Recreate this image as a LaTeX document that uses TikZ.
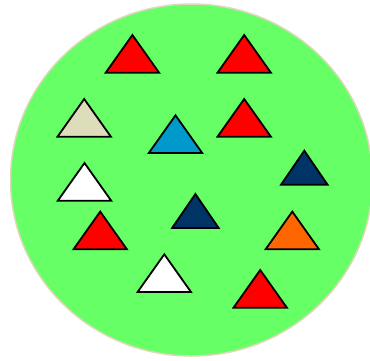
\documentclass[tikz,border=0pt]{standalone}
\usepackage{tikz}
\usetikzlibrary{calc}

\definecolor{fieldgreen}{HTML}{66FF66}
\definecolor{fieldrim}{HTML}{DDD8B8}
\definecolor{tred}{HTML}{FF0000}
\definecolor{tbeige}{HTML}{DDDDBB}
\definecolor{tblue}{HTML}{0099CC}
\definecolor{tnavy}{HTML}{003366}
\definecolor{torange}{HTML}{FF6600}

\begin{document}
\begin{tikzpicture}[
  x=1pt, y=-1pt,
  field/.style={fill=fieldgreen, draw=fieldrim, line width=1.5pt},
  tri/.style={draw=black, line width=1.8pt, line join=miter}
]
  \useasboundingbox (0,0) rectangle (370,360);

  % the green field
  \draw[field] (191.5,180) ellipse [x radius=181, y radius=176];

  % triangles: base centre x / base y / half width / height / colour
  \foreach \bx/\by/\hw/\ht/\col in {
      132.4/72.7/26.7/37.7/tred,
      244.2/72.7/26.7/37.7/tred,
      84.2/136.7/26.7/37.7/tbeige,
      175.5/153.0/26.7/37.7/tblue,
      244.2/136.7/26.7/37.7/tred,
      304.3/184.7/23.3/34.0/tnavy,
      84.5/200.7/26.7/37.7/white,
      195.4/228.0/23.3/34.0/tnavy,
      100.2/249.3/26.7/37.7/tred,
      292.3/249.3/26.7/37.7/torange,
      164.3/292.0/26.7/37.7/white,
      260.2/307.7/26.7/37.7/tred}
  {
    \draw[tri, fill=\col] (\bx-\hw,\by) -- (\bx,\by-\ht) -- (\bx+\hw,\by) -- cycle;
  }
\end{tikzpicture}
\end{document}
